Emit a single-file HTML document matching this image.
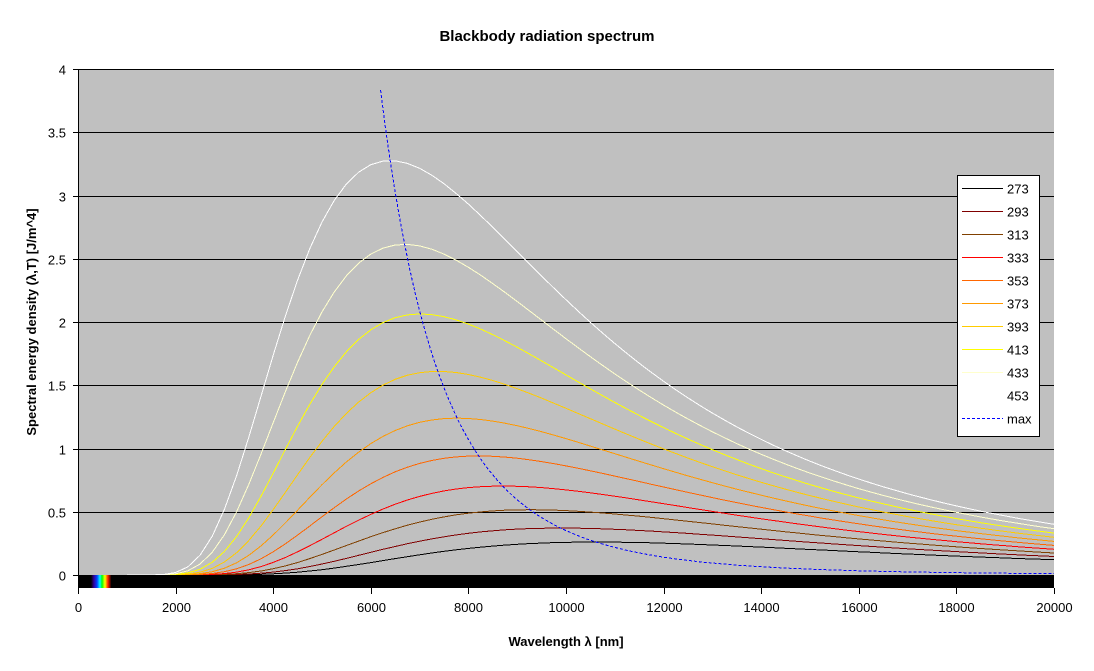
<!DOCTYPE html>
<html><head><meta charset="utf-8"><style>
body{margin:0;background:#fff}
svg{display:block;font-family:"Liberation Sans",Arial,sans-serif}
</style></head><body>
<svg id="s" width="1094" height="671" xmlns="http://www.w3.org/2000/svg">
<rect width="1094" height="671" fill="#fff"/>
<text x="547" y="41" text-anchor="middle" font-size="15" font-weight="bold">Blackbody radiation spectrum</text>
<rect x="78" y="69" width="976" height="506" fill="#c0c0c0"/>
<g id="grid" shape-rendering="crispEdges"></g>
<defs><clipPath id="cp"><rect x="78" y="69" width="976" height="506"/></clipPath>
<linearGradient id="sp" x1="0" x2="1"><stop offset="0" stop-color="#000"/><stop offset="0.15" stop-color="#3000a0"/><stop offset="0.3" stop-color="#0040ff"/><stop offset="0.45" stop-color="#00ffff"/><stop offset="0.55" stop-color="#00ff00"/><stop offset="0.7" stop-color="#ffff00"/><stop offset="0.85" stop-color="#ff2000"/><stop offset="1" stop-color="#200000"/></linearGradient></defs>
<g id="curves" clip-path="url(#cp)" shape-rendering="crispEdges"></g>
<rect x="78" y="575" width="976" height="13" fill="#000"/>
<rect x="91" y="575" width="20" height="13" fill="url(#sp)"/>
<line x1="78.5" y1="69" x2="78.5" y2="588" stroke="#000" shape-rendering="crispEdges"/>
<g id="ticks" shape-rendering="crispEdges"></g>
<text x="0" y="0" transform="translate(36,322) rotate(-90)" text-anchor="middle" font-size="13" font-weight="bold">Spectral energy density (λ,T) [J/m^4]</text>
<text x="566" y="646" text-anchor="middle" font-size="13" font-weight="bold">Wavelength λ [nm]</text>
<g id="leg" shape-rendering="crispEdges"></g>
</svg>
<script>
var NS="http://www.w3.org/2000/svg";
function el(p,t,a,txt){var e=document.createElementNS(NS,t);for(var k in a)e.setAttribute(k,a[k]);if(txt!==undefined)e.textContent=txt;document.getElementById(p).appendChild(e);return e;}
function X(l){return 78+l*976/20000}
function Y(v){return 575-v*126.5}
for(var i=0;i<=8;i++){var v=i*0.5,y=Math.round(Y(v))+0.5;
 if(i>0)el('grid','line',{x1:78,x2:1054,y1:y,y2:y,stroke:'#000'});
 el('ticks','line',{x1:73,x2:78,y1:y,y2:y,stroke:'#000'});
 el('ticks','text',{x:66,y:y+5,'text-anchor':'end','font-size':13},String(v));}
for(var i=0;i<=10;i++){var x=Math.round(X(i*2000))+0.5;
 el('ticks','line',{x1:x,x2:x,y1:588,y2:594,stroke:'#000'});
 el('ticks','text',{x:x,y:612,'text-anchor':'middle','font-size':13},String(i*2000));}
function u(l,T){var lm=l*1e-9;return 4.995e-24/Math.pow(lm,5)/(Math.exp(0.014388/(lm*T))-1);}
var Ts=[273,293,313,333,353,373,393,413,433,453];
var cols=['#000000','#800000','#804000','#ff0000','#ff6600','#ff9900','#ffcc00','#ffff00','#ffffcc','#ffffff'];
for(var j=0;j<Ts.length;j++){var d='';
 for(var l=1000;l<=20000;l+=250){d+=(l==1000?'M':'L')+X(l).toFixed(1)+','+Y(u(l,Ts[j])).toFixed(1);}
 el('curves','path',{d:d,fill:'none',stroke:cols[j],'stroke-width':1});}
var d='';
for(var l=6200;l<=20000;l+=100){var T=2.898e6/l;d+=(l==6200?'M':'L')+X(l).toFixed(1)+','+Y(u(l,T)).toFixed(1);}
el('curves','path',{d:d,fill:'none',stroke:'#0000ff','stroke-width':1,'stroke-dasharray':'3,2'});
el('leg','rect',{x:957.5,y:175.5,width:82,height:261,fill:'#fff',stroke:'#000'});
var labs=['273','293','313','333','353','373','393','413','433','453','max'];
for(var j=0;j<11;j++){var y=188.5+j*23;
 el('leg','line',{x1:962,x2:1003,y1:y,y2:y,stroke:j<10?cols[j]:'#0000ff','stroke-dasharray':j==10?'3,2':'none'});
 el('leg','text',{x:1007,y:y+5,'font-size':13},labs[j]);}
</script>
</body></html>
